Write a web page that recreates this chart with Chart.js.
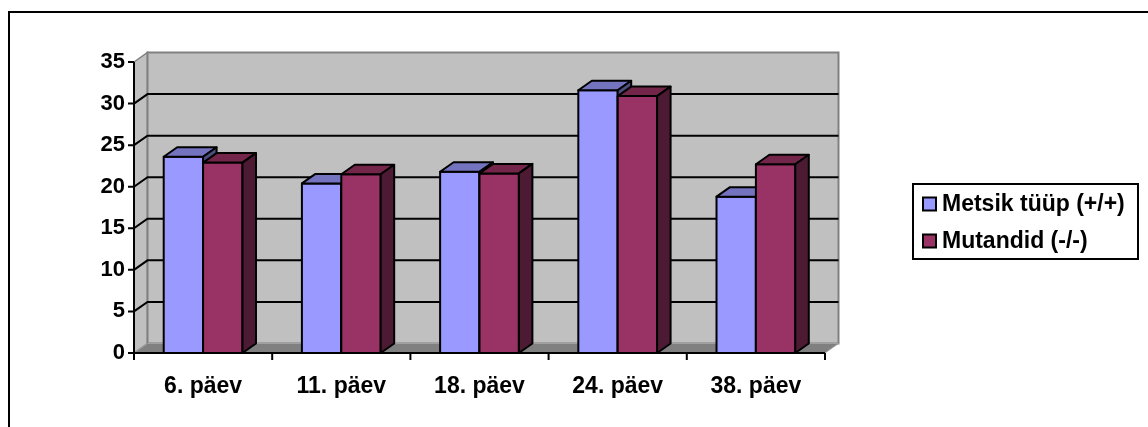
<!DOCTYPE html>
<html>
<head>
<meta charset="utf-8">
<script src="https://cdn.jsdelivr.net/npm/chart.js@4/dist/chart.umd.min.js"></script>
<style>
  html, body { margin: 0; padding: 0; background: #fff; }
  canvas { display: block; }
</style>
</head>
<body>
<canvas id="chart" width="1148" height="427"></canvas>
<script>
// data
const categories = ['6. päev', '11. päev', '18. päev', '24. päev', '38. päev'];
const wildType = [23.6, 20.4, 21.8, 31.6, 18.8];
const mutants = [22.9, 21.5, 21.6, 30.9, 22.7];
const seriesLabels = ['Metsik tüüp (+/+)', 'Mutandid (-/-)'];
const yMax = 35;
const yStep = 5;

const FONT = '"Liberation Sans", Arial, sans-serif';
const DX = 13.5, DY = -9.5; // depth offset of the fake 3d

const faces = [
  { front: '#9999ff', top: '#7373bf', side: '#4d4d80' },
  { front: '#993366', top: '#732649', side: '#4d1a33' }
];

function poly(ctx, pts, fill, stroke, lw) {
  ctx.beginPath();
  ctx.moveTo(pts[0][0], pts[0][1]);
  for (let i = 1; i < pts.length; i++) ctx.lineTo(pts[i][0], pts[i][1]);
  ctx.closePath();
  if (fill) { ctx.fillStyle = fill; ctx.fill(); }
  if (stroke) { ctx.strokeStyle = stroke; ctx.lineWidth = lw || 1; ctx.stroke(); }
}

const excel3d = {
  id: 'excel3d',
  beforeDraw(chart) {
    const ctx = chart.ctx;
    const { left: L, right: R, top: T, bottom: B } = chart.chartArea;
    const yScale = chart.scales.y;
    ctx.save();
    ctx.fillStyle = '#fff';
    ctx.fillRect(0, 0, chart.width, chart.height);
    // outer frame, runs off the right and bottom
    ctx.strokeStyle = '#000';
    ctx.lineWidth = 2;
    ctx.strokeRect(9, 12, chart.width + 20, chart.height + 20);

    // side wall
    poly(ctx, [[L, T], [L + DX, T + DY], [L + DX, B + DY], [L, B]], '#c0c0c0', '#808080', 1.5);
    // back wall
    poly(ctx, [[L + DX, T + DY], [R + DX, T + DY], [R + DX, B + DY], [L + DX, B + DY]], '#c0c0c0', '#808080', 2);
    // floor
    poly(ctx, [[L, B], [R, B], [R + DX, B + DY], [L + DX, B + DY]], '#808080', '#a0a0a0', 1);

    // gridlines on side + back wall
    ctx.strokeStyle = '#000';
    ctx.lineWidth = 2;
    for (let v = yStep; v < yMax; v += yStep) {
      const y = yScale.getPixelForValue(v);
      ctx.beginPath();
      ctx.moveTo(L, y);
      ctx.lineTo(L + DX, y + DY);
      ctx.lineTo(R + DX, y + DY);
      ctx.stroke();
    }
    ctx.restore();
  },
  beforeDatasetsDraw(chart) {
    const ctx = chart.ctx;
    ctx.save();
    ctx.lineJoin = 'round';
    const n = chart.data.labels.length;
    for (let j = 0; j < n; j++) {
      chart.data.datasets.forEach((ds, i) => {
        const el = chart.getDatasetMeta(i).data[j];
        const { x, y, base, width } = el.getProps(['x', 'y', 'base', 'width'], true);
        const l = x - width / 2, r = x + width / 2;
        const c = faces[i];
        poly(ctx, [[l, y], [r, y], [r, base], [l, base]], c.front, '#000', 2);
        poly(ctx, [[l, y], [r, y], [r + DX, y + DY], [l + DX, y + DY]], c.top, '#000', 2);
        poly(ctx, [[r, y], [r + DX, y + DY], [r + DX, base + DY], [r, base]], c.side, '#000', 2);
      });
    }
    ctx.restore();
    return false; // bars are drawn above, skip the flat ones
  },
  afterDraw(chart) {
    const ctx = chart.ctx;
    const { left: L, right: R, top: T, bottom: B } = chart.chartArea;
    const yScale = chart.scales.y;
    const xScale = chart.scales.x;
    ctx.save();
    ctx.strokeStyle = '#000';
    ctx.lineWidth = 2;
    // value axis + ticks
    ctx.beginPath();
    ctx.moveTo(L, T);
    ctx.lineTo(L, B);
    for (let v = 0; v <= yMax; v += yStep) {
      const y = yScale.getPixelForValue(v);
      ctx.moveTo(L - 6, y);
      ctx.lineTo(L, y);
    }
    // category axis + ticks between groups
    ctx.moveTo(L - 1, B);
    ctx.lineTo(R, B);
    const n = chart.data.labels.length;
    for (let k = 0; k <= n; k++) {
      const xx = xScale.getPixelForValue(k - 0.5);
      ctx.moveTo(xx, B);
      ctx.lineTo(xx, B + 7);
    }
    ctx.stroke();

    // legend box
    ctx.fillStyle = '#fff';
    ctx.fillRect(913, 184, 225, 75);
    ctx.strokeRect(913, 184, 225, 75);
    ctx.font = 'bold 23px ' + FONT;
    ctx.textBaseline = 'middle';
    const rows = [204, 241];
    chart.data.datasets.forEach((ds, i) => {
      const yy = rows[i];
      ctx.fillStyle = ds.backgroundColor;
      ctx.fillRect(923, yy - 6.5, 13, 13);
      ctx.strokeRect(923, yy - 6.5, 13, 13);
      ctx.fillStyle = '#000';
      ctx.fillText(ds.label, 942, yy + 1);
    });
    ctx.restore();
  }
};

new Chart(document.getElementById('chart'), {
  type: 'bar',
  data: {
    labels: categories,
    datasets: [
      { label: seriesLabels[0], data: wildType, backgroundColor: faces[0].front },
      { label: seriesLabels[1], data: mutants, backgroundColor: faces[1].front }
    ]
  },
  options: {
    responsive: false,
    animation: false,
    devicePixelRatio: 1,
    layout: { padding: { top: 62, right: 323, left: 0, bottom: 0 } },
    datasets: { bar: { categoryPercentage: 0.57, barPercentage: 1.0 } },
    plugins: { legend: { display: false }, tooltip: { enabled: false } },
    scales: {
      x: {
        grid: { display: false },
        border: { display: false },
        ticks: { color: '#000', font: { family: FONT, size: 23, weight: 'bold' }, padding: 12, maxRotation: 0 },
        afterFit(scale) { scale.height = 74; }
      },
      y: {
        min: 0,
        max: yMax,
        grid: { display: false, drawTicks: false },
        border: { display: false },
        ticks: { stepSize: yStep, color: '#000', font: { family: FONT, size: 22, weight: 'bold' }, padding: 9 },
        afterFit(scale) { scale.width = 134; }
      }
    }
  },
  plugins: [excel3d]
});
</script>
</body>
</html>
